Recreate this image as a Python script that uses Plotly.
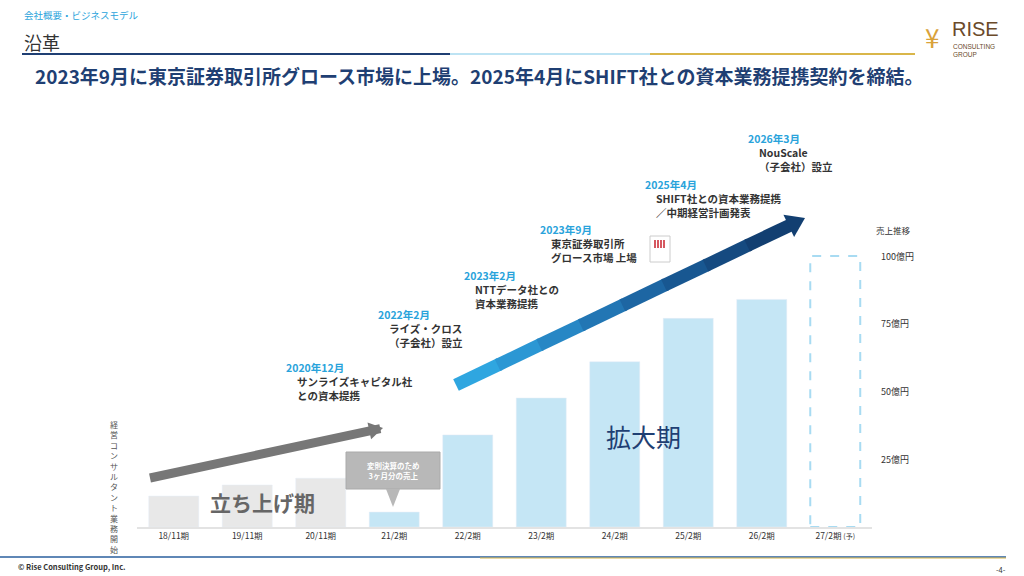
import plotly.graph_objects as go

periods = ["18/11期", "19/11期", "20/11期", "21/2期", "22/2期", "23/2期",
           "24/2期", "25/2期", "26/2期", "27/2期"]
sales = [11.4, 15.5, 18.0, 5.5, 34.0, 47.6, 61.0, 77.0, 84.0]
forecast = 100.0
tick_vals = [25, 50, 75, 100]
tick_text = ["25億円", "50億円", "75億円", "100億円"]

events = [
    ("2020年12月", ["サンライズキャピタル社", "との資本提携"], 284, 367),
    ("2022年2月", ["ライズ・クロス", "（子会社）設立"], 376, 314),
    ("2023年2月", ["NTTデータ社との", "資本業務提携"], 462, 275),
    ("2023年9月", ["東京証券取引所", "グロース市場 上場"], 538, 229),
    ("2025年4月", ["SHIFT社との資本業務提携", "／中期経営計画発表"], 643, 184),
    ("2026年3月", ["NouScale", "（子会社）設立"], 746, 138),
]

FONT = "Noto Sans CJK JP"
W, H = 1024, 576


def px(x):
    return x / W


def py(y):
    return 1 - y / H


colors = ["#e8e8e8"] * 3 + ["#c5e6f5"] * 6
labels = periods[:-1] + ["27/2期 <span style='font-size:7px'>(予)</span>"]

fig = go.Figure()
fig.add_trace(go.Bar(x=periods[:-1], y=sales, marker_color=colors,
                     width=0.68, hoverinfo="skip"))
fig.add_trace(go.Bar(x=[periods[-1]], y=[forecast], width=0.68,
                     marker=dict(color="rgba(0,0,0,0)", line=dict(width=0)),
                     hoverinfo="skip"))

shapes = []
ann = []

# dashed outline for forecast bar
shapes.append(dict(type="rect", xref="x", yref="y", x0=8.66, x1=9.34, y0=0,
                   y1=forecast, line=dict(color="#a8dbf2", width=2, dash="dash")))

# header lines
shapes.append(dict(type="line", xref="paper", yref="paper", x0=px(22), x1=px(450),
                   y0=py(54), y1=py(54), line=dict(color="#1f3f73", width=2)))
shapes.append(dict(type="line", xref="paper", yref="paper", x0=px(450), x1=px(650),
                   y0=py(54), y1=py(54), line=dict(color="#bde3f3", width=2)))
shapes.append(dict(type="line", xref="paper", yref="paper", x0=px(650), x1=px(915),
                   y0=py(54), y1=py(54), line=dict(color="#d9b64a", width=2)))
# footer lines
shapes.append(dict(type="line", xref="paper", yref="paper", x0=px(0), x1=px(1006),
                   y0=py(557), y1=py(557), line=dict(color="#2a5f9e", width=1.5)))
shapes.append(dict(type="line", xref="paper", yref="paper", x0=px(480), x1=px(1006),
                   y0=py(558), y1=py(558), line=dict(color="#d9b64a", width=1)))

# small listing icon
shapes.append(dict(type="rect", xref="paper", yref="paper", x0=px(650), x1=px(670),
                   y0=py(262), y1=py(236), fillcolor="white",
                   line=dict(color="#cccccc", width=1)))
for i in range(4):
    xx = 655 + i * 3
    shapes.append(dict(type="line", xref="paper", yref="paper", x0=px(xx), x1=px(xx),
                       y0=py(248), y1=py(240), line=dict(color="#c8202b", width=1.5)))


def thick_arrow(x0, y0, x1, y1, width, head, cols):
    n = len(cols)
    dx, dy = x1 - x0, y1 - y0
    L = (dx * dx + dy * dy) ** 0.5
    ux, uy = dx / L, dy / L
    bx, by = x1 - ux * head, y1 - uy * head
    for i, c in enumerate(cols):
        sx = x0 + (bx - x0) * i / n
        sy = y0 + (by - y0) * i / n
        ex = x0 + (bx - x0) * (i + 1.05) / n
        ey = y0 + (by - y0) * (i + 1.05) / n
        shapes.append(dict(type="line", xref="paper", yref="paper",
                           x0=px(sx), y0=py(sy), x1=px(ex), y1=py(ey),
                           line=dict(color=c, width=width)))
    nx, ny = -uy, ux
    hw = width * 0.95
    pts = [(bx + nx * hw, by + ny * hw), (x1, y1), (bx - nx * hw, by - ny * hw)]
    path = "M " + " L ".join(f"{px(a)},{py(b)}" for a, b in pts) + " Z"
    shapes.append(dict(type="path", xref="paper", yref="paper", path=path,
                       fillcolor=cols[-1], line=dict(width=0)))


thick_arrow(150, 478, 383, 428, 9, 14, ["#777777"])
blues = ["#2fa6e0", "#2b97d4", "#2787c5", "#2276b4", "#1d66a3", "#185791",
         "#154a80", "#123f71"]
thick_arrow(456, 385, 805, 218, 13, 18, blues)

# callout box
shapes.append(dict(type="rect", xref="paper", yref="paper", x0=px(346), x1=px(440),
                   y0=py(489), y1=py(452), fillcolor="#b8b8b8",
                   line=dict(color="#aaaaaa", width=1)))
shapes.append(dict(type="path", xref="paper", yref="paper",
                   path=f"M {px(386)},{py(489)} L {px(393)},{py(507)} L {px(400)},{py(489)} Z",
                   fillcolor="#b8b8b8", line=dict(width=0)))
ann.append(dict(x=px(393), y=py(470), text="<b>変則決算のため<br>3ヶ月分の売上</b>",
                font=dict(size=7.5, color="white", family=FONT)))

# header texts
ann.append(dict(x=px(22), y=py(15), text="会社概要・ビジネスモデル", xanchor="left",
                font=dict(size=9.5, color="#29a3db", family=FONT)))
ann.append(dict(x=px(22), y=py(42), text="沿革", xanchor="left",
                font=dict(size=18, color="#333333", family=FONT)))
ann.append(dict(x=px(33), y=py(76),
                text="<b>2023年9月に東京証券取引所グロース市場に上場。2025年4月にSHIFT社との資本業務提携契約を締結。</b>",
                xanchor="left", font=dict(size=19, color="#1f3f73", family=FONT)))
ann.append(dict(x=px(950), y=py(29), text="RISE", xanchor="left",
                font=dict(size=20, color="#6b4a2a", family="Liberation Sans")))
ann.append(dict(x=px(951), y=py(50), text="CONSULTING<br>GROUP", xanchor="left",
                align="left", font=dict(size=6.5, color="#6b4a2a", family="Liberation Sans")))
ann.append(dict(x=px(932), y=py(36), text="¥", font=dict(size=26, color="#d9a23a")))
ann.append(dict(x=px(16), y=py(566), text="<b>© Rise Consulting Group, Inc.</b>", xanchor="left",
                font=dict(size=7.5, color="#333333", family=FONT)))
ann.append(dict(x=px(1008), y=py(569), text="-4-", xanchor="right",
                font=dict(size=7.5, color="#333333", family=FONT)))

# events
for date, lines, x, y in events:
    ann.append(dict(x=px(x), y=py(y), text=f"<b>{date}</b>", xanchor="left",
                    font=dict(size=10.5, color="#29a3db", family=FONT)))
    ann.append(dict(x=px(x + 11), y=py(y + 21), text="<br>".join(f"<b>{l}</b>" for l in lines),
                    xanchor="left", align="left",
                    font=dict(size=10.5, color="#333333", family=FONT)))

# phase labels
ann.append(dict(x=px(262), y=py(502), text="<b>立ち上げ期</b>",
                font=dict(size=21, color="#666666", family=FONT)))
ann.append(dict(x=px(643), y=py(436), text="拡大期",
                font=dict(size=25, color="#1f3f73", family=FONT)))
ann.append(dict(x=px(114), y=py(487), text="<br>".join("経営コンサルタント業務開始"),
                font=dict(size=8, color="#555555", family=FONT)))

# right axis labels
ann.append(dict(x=px(893), y=py(230), text="売上推移",
                font=dict(size=8.5, color="#333333", family=FONT)))
for v, t in zip(tick_vals, tick_text):
    ann.append(dict(x=px(879), xref="paper", y=v, yref="y", text=t, xanchor="left",
                    font=dict(size=9, color="#333333", family=FONT)))

for a in ann:
    a.setdefault("xref", "paper")
    a.setdefault("yref", "paper")
    a.setdefault("yanchor", "middle")
    a.setdefault("xanchor", "center")
    a["showarrow"] = False

fig.update_layout(
    width=W, height=H, margin=dict(l=0, r=0, t=0, b=0),
    plot_bgcolor="white", paper_bgcolor="white", showlegend=False,
    shapes=shapes, annotations=ann, bargap=0.32,
    font=dict(family=FONT),
    xaxis=dict(domain=[px(137), px(872)], tickvals=periods, ticktext=labels,
               showline=True, linecolor="#e3e3e3", linewidth=1.5, ticks="",
               tickfont=dict(size=8.5, color="#333333"), fixedrange=True),
    yaxis=dict(domain=[py(527), 1], range=[0, 194.5], showgrid=False,
               showticklabels=False, zeroline=False, fixedrange=True),
)

fig.write_html("out.html", config={"displayModeBar": False},
               post_script="document.body.style.margin='0';")
